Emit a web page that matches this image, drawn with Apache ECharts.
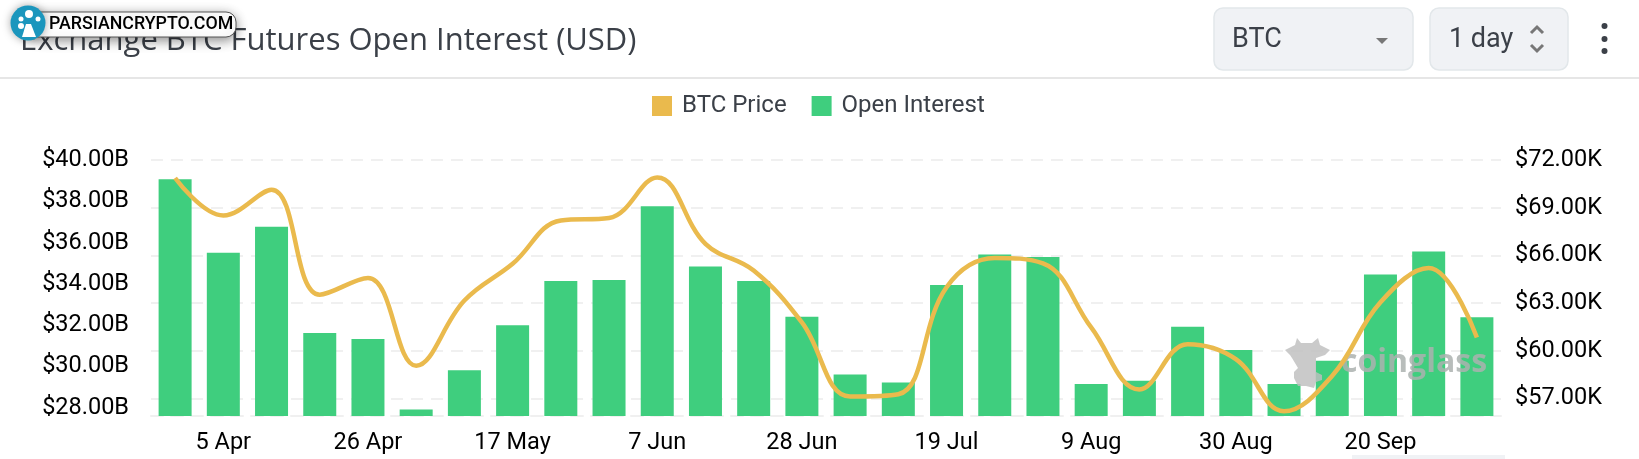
<!DOCTYPE html>
<html>
<head>
<meta charset="utf-8">
<title>Exchange BTC Futures Open Interest (USD)</title>
<script src="https://cdn.jsdelivr.net/npm/echarts@6/dist/echarts.min.js"></script>
<style>
  html, body { margin: 0; padding: 0; background: #fff; }
  #main { width: 1639px; height: 459px; }
</style>
</head>
<body>
<div id="main"></div>
<script>
  var categories = ['29 Mar', '5 Apr', '12 Apr', '19 Apr', '26 Apr', '3 May', '10 May', '17 May', '24 May', '31 May',
    '7 Jun', '14 Jun', '21 Jun', '28 Jun', '5 Jul', '12 Jul', '19 Jul', '26 Jul', '2 Aug', '9 Aug',
    '16 Aug', '23 Aug', '30 Aug', '6 Sep', '13 Sep', '20 Sep', '27 Sep', '4 Oct']
  // billions USD
  var openInterest = [39.07, 35.51, 36.77, 31.63, 31.34, 27.93, 29.83, 32.0, 34.14, 34.19,
    37.76, 34.85, 34.14, 32.41, 29.62, 29.23, 33.95, 35.43, 35.30, 29.16,
    29.31, 31.93, 30.80, 29.16, 30.28, 34.46, 35.57, 32.39]
  // thousands USD
  var btcPrice = [70.87, 68.51, 70.13, 63.53, 64.58, 59.06, 63.16, 65.47, 68.2, 68.35,
    70.9, 66.73, 65.05, 61.79, 57.13, 57.27, 64.0, 65.84, 65.5, 61.47,
    57.57, 60.42, 59.48, 56.2, 58.43, 63.05, 65.21, 60.84]
  var oiTicks = [28, 30, 32, 34, 36, 38, 40]
  var priceTicks = [57, 60, 63, 66, 69, 72]

  var labelFont = 'Roboto, sans-serif'
  var gridLine = { color: '#f0f0f0', width: 2, type: [12, 8] }
  var cowFill = 'rgba(190,190,190,0.82)'

  function chip(x, w) {
    return {
      type: 'rect',
      shape: { x: x, y: 8, width: w, height: 62, r: 9 },
      style: { fill: '#f0f2f5', stroke: '#e2e7ea', lineWidth: 1.5 }
    }
  }

  var myChart = echarts.init(document.getElementById('main'), null, { renderer: 'canvas' })

  var option = {
    animation: false,
    backgroundColor: '#fff',
    title: {
      text: 'Exchange BTC Futures Open Interest (USD)',
      left: 15,
      top: 21,
      textStyle: { color: '#3b4048', fontFamily: 'Open Sans, sans-serif', fontWeight: 400, fontSize: 31 }
    },
    legend: {
      left: 647,
      top: 89,
      itemWidth: 20,
      itemHeight: 20,
      itemGap: 25,
      icon: 'rect',
      data: ['BTC Price', 'Open Interest'],
      textStyle: { color: '#3b4048', fontFamily: labelFont, fontSize: 24, padding: [0, 0, 0, 5] }
    },
    grid: { left: 151, right: 138, top: 160, bottom: 43 },
    xAxis: {
      type: 'category',
      data: categories,
      axisTick: { show: false },
      axisLine: { show: true, lineStyle: gridLine },
      axisLabel: {
        color: '#000',
        fontFamily: labelFont,
        fontSize: 23.5,
        margin: 15,
        interval: function (i) { return i % 3 === 1 }
      }
    },
    yAxis: [
      {
        type: 'value',
        position: 'left',
        min: 27.61,
        max: 40,
        splitLine: { show: false },
        axisLine: { show: false },
        axisTick: { show: false, customValues: oiTicks },
        axisLabel: {
          customValues: oiTicks,
          color: '#000',
          fontFamily: labelFont,
          fontSize: 23.5,
          margin: 22,
          formatter: function (v) { return '$' + v.toFixed(2) + 'B' }
        }
      },
      {
        type: 'value',
        position: 'right',
        min: 55.9,
        max: 72,
        splitLine: { show: true, lineStyle: gridLine },
        axisLine: { show: false },
        axisTick: { show: false, customValues: priceTicks },
        axisLabel: {
          customValues: priceTicks,
          color: '#000',
          fontFamily: labelFont,
          fontSize: 23.5,
          margin: 14,
          formatter: function (v) { return '$' + v.toFixed(2) + 'K' }
        }
      }
    ],
    series: [
      {
        name: 'Open Interest',
        type: 'bar',
        yAxisIndex: 0,
        barWidth: 33,
        itemStyle: { color: '#3fce7e' },
        data: openInterest
      },
      {
        name: 'BTC Price',
        type: 'line',
        yAxisIndex: 1,
        smooth: 0.4,
        showSymbol: false,
        symbol: 'none',
        z: 12,
        itemStyle: { color: '#eaba4d' },
        lineStyle: { color: '#eaba4d', width: 4.5 },
        data: btcPrice
      }
    ],
    graphic: [
      // header divider
      { type: 'rect', shape: { x: 0, y: 77, width: 1639, height: 2 }, style: { fill: '#e6e6e6' } },
      // selects
      chip(1214, 199),
      chip(1430, 138),
      { type: 'text', style: { x: 1232, y: 40, text: 'BTC', fontFamily: labelFont, fontSize: 27, fill: '#3b4048', textVerticalAlign: 'middle' } },
      { type: 'polygon', shape: { points: [[1376, 38], [1388, 38], [1382, 44]] }, style: { fill: '#777' } },
      { type: 'text', style: { x: 1449, y: 40, text: '1 day', fontFamily: labelFont, fontSize: 27, fill: '#3b4048', textVerticalAlign: 'middle' } },
      { type: 'polyline', shape: { points: [[1531, 33], [1537, 27], [1543, 33]] }, style: { stroke: '#777', lineWidth: 3, fill: null } },
      { type: 'polyline', shape: { points: [[1531, 45], [1537, 51], [1543, 45]] }, style: { stroke: '#777', lineWidth: 3, fill: null } },
      { type: 'circle', shape: { cx: 1604.5, cy: 26, r: 3 }, style: { fill: '#3b4048' } },
      { type: 'circle', shape: { cx: 1604.5, cy: 39, r: 3 }, style: { fill: '#3b4048' } },
      { type: 'circle', shape: { cx: 1604.5, cy: 51, r: 3 }, style: { fill: '#3b4048' } },
      // site badge on top of the title
      {
        type: 'rect',
        z: 20,
        shape: { x: 28, y: 12, width: 208, height: 25, r: 10 },
        style: { fill: '#fff', stroke: '#555', lineWidth: 1, shadowBlur: 12, shadowColor: 'rgba(0,0,0,0.45)', shadowOffsetY: 3 }
      },
      {
        type: 'text',
        z: 21,
        style: { x: 49, y: 25, text: 'PARSIANCRYPTO.COM', fontFamily: labelFont, fontWeight: 500, fontSize: 17.8, fill: '#000', textVerticalAlign: 'middle' }
      },
      { type: 'circle', z: 21, shape: { cx: 28, cy: 23, r: 17.5 }, style: { fill: '#1b96bd', shadowBlur: 8, shadowColor: 'rgba(0,0,0,0.35)' } },
      { type: 'polygon', z: 22, shape: { points: [[26, 24], [31, 24], [36, 37], [22, 37]] }, style: { fill: '#fff' } },
      { type: 'circle', z: 22, shape: { cx: 29, cy: 14, r: 4 }, style: { fill: '#fff' } },
      { type: 'circle', z: 22, shape: { cx: 21, cy: 19, r: 2.5 }, style: { fill: '#fff' } },
      { type: 'circle', z: 22, shape: { cx: 38, cy: 19, r: 2.5 }, style: { fill: '#fff' } },
      { type: 'circle', z: 22, shape: { cx: 21, cy: 26, r: 3 }, style: { fill: '#fff' } },
      // watermark
      {
        type: 'polygon',
        z: 10,
        shape: {
          points: [[1285, 350], [1295, 345], [1297, 338], [1301, 343], [1312, 343], [1318, 338], [1320, 345], [1330, 350],
            [1325, 355], [1316, 358], [1316, 372], [1322, 375], [1322, 380], [1316, 382], [1314, 388], [1306, 386],
            [1298, 386], [1294, 378], [1294, 372], [1298, 368], [1292, 358], [1290, 355]]
        },
        style: { fill: cowFill }
      },
      {
        type: 'text',
        z: 10,
        style: { x: 1341, y: 363, text: 'coinglass', fontFamily: 'Open Sans, sans-serif', fontWeight: 700, fontSize: 32, fill: 'rgba(172,178,175,0.85)', textVerticalAlign: 'middle' }
      },
      // strip of the next page element
      { type: 'rect', shape: { x: 1352, y: 455, width: 153, height: 4 }, style: { fill: '#f0f2f5' } }
    ]
  }

  myChart.setOption(option)
</script>
</body>
</html>
